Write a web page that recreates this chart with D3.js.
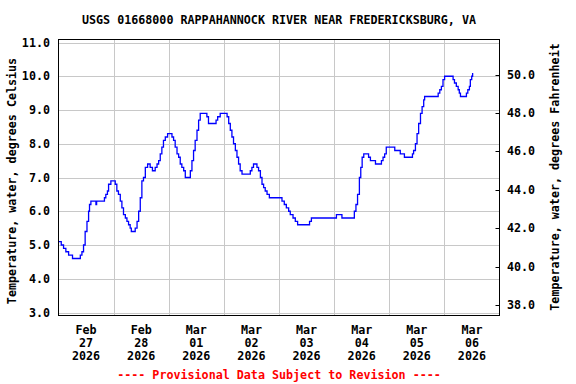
<!DOCTYPE html>
<html>
<head>
<meta charset="utf-8">
<script src="https://cdn.jsdelivr.net/npm/d3@7"></script>
<style>
  body { margin: 0; background: #fff; }
  text { font-family: "DejaVu Sans Mono", monospace; font-weight: bold; font-size: 11.7px; }
</style>
</head>
<body>
<div id="chart"></div>
<script>
// hours after 2026-02-27 00:00 and water temperature (deg C)
var hours = [0.0, 1.2, 2.2, 3.2, 4.4, 6.1, 8.7, 9.5, 10.2, 10.9, 11.6, 12.4, 13.1, 13.5, 14.1, 16.3, 16.6,
  19.6, 20.0, 20.6, 21.3, 21.8, 22.8, 24.0, 24.7, 25.4, 26.1, 26.9, 27.6, 28.3, 29.1, 29.8, 30.5, 31.2, 31.7,
  32.7, 33.4, 34.2, 34.9, 35.6, 36.3, 37.0, 37.8, 38.8, 39.6, 39.9, 40.9, 41.8, 42.1, 42.9, 43.6, 44.3, 45.0,
  45.7, 46.5, 47.5, 48.7, 49.4, 50.1, 50.8, 51.6, 52.3, 53.0, 53.7, 54.5, 55.2, 57.1, 57.4, 58.1, 58.8, 59.5,
  60.3, 61.0, 61.7, 64.2, 64.6, 65.3, 68.0, 68.6, 69.3, 70.4, 72.6, 73.4, 74.1, 74.8, 75.5, 76.2, 77.0, 77.7,
  78.4, 79.1, 79.9, 82.8, 83.5, 84.2, 84.9, 85.7, 86.4, 87.1, 87.9, 88.6, 89.3, 90.0, 90.8, 91.8, 96.6, 97.3,
  98.3, 99.2, 100.2, 100.9, 102.1, 103.1, 104.1, 108.9, 109.3, 110.1, 120.5, 121.0, 122.7, 123.4, 128.5, 128.8,
  129.5, 130.2, 131.0, 131.6, 132.2, 132.9, 134.6, 135.0, 135.8, 138.0, 140.1, 140.6, 141.3, 142.0, 142.7,
  145.9, 146.4, 148.4, 148.8, 150.3, 150.6, 153.6, 154.1, 154.6, 155.4, 156.1, 156.8, 157.6, 158.3, 159.0,
  159.4, 164.8, 165.3, 166.0, 166.7, 167.4, 168.1, 171.4, 171.8, 172.4, 173.2, 174.0, 174.5, 175.0, 177.2,
  177.6, 178.2, 178.9, 179.3, 179.9, 180.3];
var tempC = [5.1, 5.0, 4.9, 4.8, 4.7, 4.6, 4.6, 4.7, 4.8, 5.0, 5.4, 5.7, 6.0, 6.2, 6.3, 6.2, 6.3,
  6.3, 6.4, 6.5, 6.6, 6.8, 6.9, 6.9, 6.8, 6.6, 6.5, 6.3, 6.1, 5.9, 5.8, 5.7, 5.6, 5.5, 5.4,
  5.4, 5.5, 5.7, 6.0, 6.4, 6.9, 7.0, 7.3, 7.4, 7.4, 7.3, 7.2, 7.2, 7.3, 7.4, 7.5, 7.7, 7.9,
  8.1, 8.2, 8.3, 8.3, 8.2, 8.1, 7.9, 7.7, 7.6, 7.4, 7.3, 7.2, 7.0, 7.0, 7.2, 7.5, 7.8, 8.1,
  8.4, 8.7, 8.9, 8.9, 8.8, 8.6, 8.6, 8.7, 8.8, 8.9, 8.9, 8.8, 8.6, 8.4, 8.2, 8.0, 7.8, 7.6,
  7.4, 7.2, 7.1, 7.1, 7.2, 7.3, 7.4, 7.4, 7.3, 7.2, 7.0, 6.8, 6.7, 6.6, 6.5, 6.4, 6.4, 6.3,
  6.2, 6.1, 6.0, 5.9, 5.8, 5.7, 5.6, 5.6, 5.7, 5.8, 5.8, 5.9, 5.9, 5.8, 5.8, 6.0,
  6.2, 6.5, 7.0, 7.3, 7.6, 7.7, 7.7, 7.6, 7.5, 7.4, 7.4, 7.5, 7.6, 7.7, 7.9,
  7.9, 7.8, 7.8, 7.7, 7.7, 7.6, 7.6, 7.7, 7.8, 8.0, 8.3, 8.6, 8.9, 9.1, 9.3,
  9.4, 9.4, 9.5, 9.6, 9.7, 9.9, 10.0, 10.0, 9.9, 9.8, 9.7, 9.6, 9.5, 9.4, 9.4,
  9.5, 9.6, 9.7, 9.9, 10.0, 10.1];

var dayMonths = ["Feb", "Feb", "Mar", "Mar", "Mar", "Mar", "Mar", "Mar"];
var dayNums = ["27", "28", "01", "02", "03", "04", "05", "06"];
var dayYears = ["2026", "2026", "2026", "2026", "2026", "2026", "2026", "2026"];
var celsiusTicks = [3, 4, 5, 6, 7, 8, 9, 10, 11];
var fahrenheitTicks = [38, 40, 42, 44, 46, 48, 50];

var title = "USGS 01668000 RAPPAHANNOCK RIVER NEAR FREDERICKSBURG, VA";
var leftTitle = "Temperature, water, degrees Celsius";
var rightTitle = "Temperature, water, degrees Fahrenheit";
var footer = "---- Provisional Data Subject to Revision ----";

var width = 576;
var height = 384;
var plotLeft = 58.5;
var plotRight = 499.5;
var plotTop = 39.5;
var plotBottom = 315.5;

var start = new Date(2026, 1, 27);
var end = new Date(2026, 2, 7);

var data = hours.map(function(h, i) {
  return { date: new Date(start.getTime() + h * 3600000), value: tempC[i] };
});

var svg = d3.select("#chart")
  .append("svg")
  .attr("width", width)
  .attr("height", height);

var xScale = d3.scaleTime()
  .domain([start, end])
  .range([plotLeft, plotRight]);

var yScale = d3.scaleLinear()
  .domain([3, 11])
  .range([312.5, 42.5]);

var fScale = d3.scaleLinear()
  .domain([38, 50])
  .range([305, 74.5]);

// grid
var days = d3.timeDay.range(start, end);

svg.append("g")
  .selectAll("line")
  .data(celsiusTicks)
  .enter()
  .append("line")
  .attr("x1", plotLeft)
  .attr("x2", plotRight)
  .attr("y1", function(d) { return Math.round(yScale(d)) + 0.5; })
  .attr("y2", function(d) { return Math.round(yScale(d)) + 0.5; })
  .attr("stroke", "#c8c8c8")
  .attr("stroke-width", 1);

svg.append("g")
  .selectAll("line")
  .data(days.slice(1))
  .enter()
  .append("line")
  .attr("x1", function(d) { return Math.round(xScale(d)) + 0.5; })
  .attr("x2", function(d) { return Math.round(xScale(d)) + 0.5; })
  .attr("y1", plotTop)
  .attr("y2", plotBottom)
  .attr("stroke", "#c8c8c8")
  .attr("stroke-width", 1);

// data line
var line = d3.line()
  .x(function(d) { return xScale(d.date); })
  .y(function(d) { return yScale(d.value); })
  .curve(d3.curveStepAfter);

svg.append("path")
  .datum(data)
  .attr("d", line)
  .attr("fill", "none")
  .attr("stroke", "#0000ff")
  .attr("stroke-width", 1.3);

// frame
svg.append("rect")
  .attr("x", plotLeft)
  .attr("y", plotTop)
  .attr("width", plotRight - plotLeft)
  .attr("height", plotBottom - plotTop)
  .attr("fill", "none")
  .attr("stroke", "#000")
  .attr("stroke-width", 1);

// left axis labels
svg.append("g")
  .selectAll("text")
  .data(celsiusTicks)
  .enter()
  .append("text")
  .attr("x", 50)
  .attr("y", function(d) { return yScale(d); })
  .attr("dy", "0.35em")
  .attr("text-anchor", "end")
  .text(function(d) { return d3.format(".1f")(d); });

// right axis: inward ticks and labels
var rightAxis = svg.append("g");
rightAxis.selectAll("line")
  .data(fahrenheitTicks)
  .enter()
  .append("line")
  .attr("x1", plotRight - 4)
  .attr("x2", plotRight)
  .attr("y1", function(d) { return Math.round(fScale(d)) + 0.5; })
  .attr("y2", function(d) { return Math.round(fScale(d)) + 0.5; })
  .attr("stroke", "#000");

rightAxis.selectAll("text")
  .data(fahrenheitTicks)
  .enter()
  .append("text")
  .attr("x", 507)
  .attr("y", function(d) { return fScale(d); })
  .attr("dy", "0.35em")
  .text(function(d) { return d3.format(".1f")(d); });

// x labels at noon of each day
var xLabels = svg.append("g")
  .selectAll("text")
  .data(days)
  .enter()
  .append("text")
  .attr("text-anchor", "middle")
  .attr("transform", function(d) {
    return "translate(" + xScale(d3.timeHour.offset(d, 12)) + ",0)";
  });

xLabels.append("tspan").attr("x", 0).attr("y", 334).text(function(d, i) { return dayMonths[i]; });
xLabels.append("tspan").attr("x", 0).attr("y", 347).text(function(d, i) { return dayNums[i]; });
xLabels.append("tspan").attr("x", 0).attr("y", 360).text(function(d, i) { return dayYears[i]; });

// titles
var midX = (plotLeft + plotRight) / 2;

svg.append("text")
  .attr("x", midX)
  .attr("y", 24)
  .attr("text-anchor", "middle")
  .text(title);

svg.append("text")
  .attr("transform", "translate(16, 181) rotate(-90)")
  .attr("text-anchor", "middle")
  .text(leftTitle);

svg.append("text")
  .attr("transform", "translate(559, 177) rotate(-90)")
  .attr("text-anchor", "middle")
  .text(rightTitle);

svg.append("text")
  .attr("x", midX)
  .attr("y", 379)
  .attr("text-anchor", "middle")
  .attr("fill", "#ff0000")
  .text(footer);
</script>
</body>
</html>
